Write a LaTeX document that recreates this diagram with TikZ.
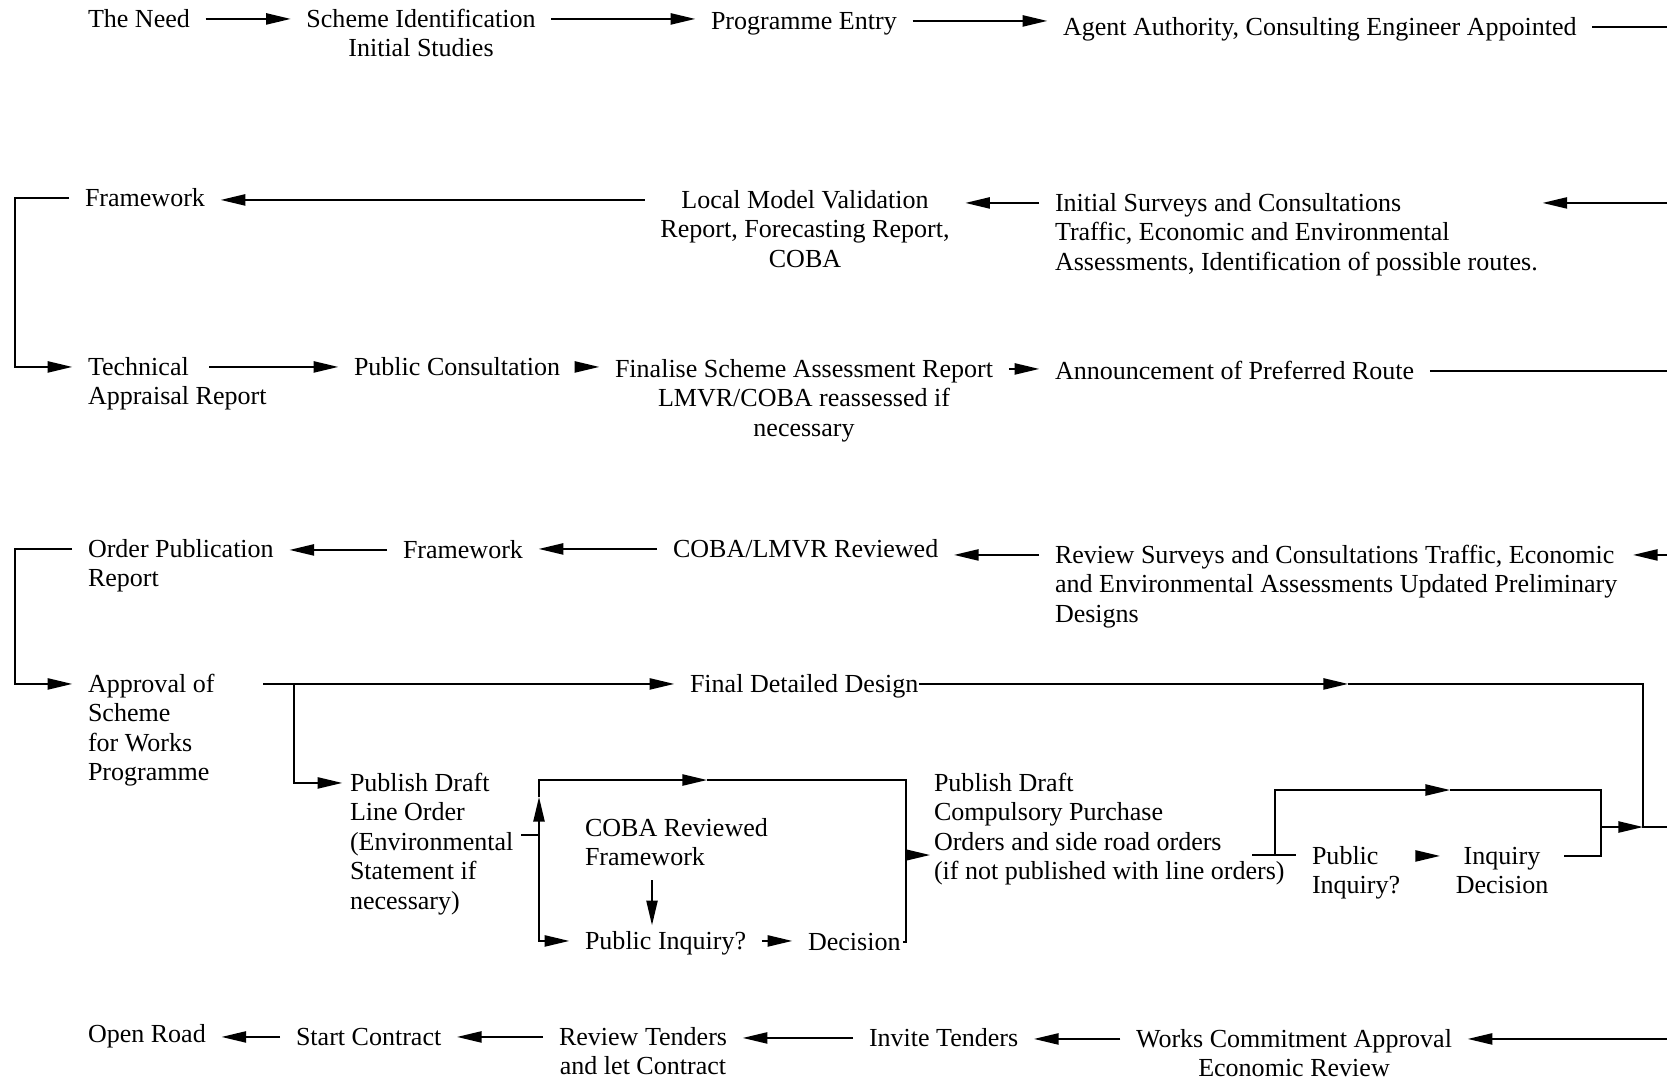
\documentclass[tikz,border=0pt]{standalone}
\usepackage{fontspec}
\setmainfont{Liberation Serif}
\usetikzlibrary{arrows.meta}
\newcommand{\leftlines}[1]{\begin{tabular}[t]{@{}l@{}}#1\end{tabular}}
\newcommand{\midlines}[1]{\begin{tabular}[t]{@{}c@{}}#1\end{tabular}}
\begin{document}
\begin{tikzpicture}[x=0.01cm, y=-0.01cm, line width=0.45pt,
	txt/.style={anchor=text, inner xsep=0.15cm, inner ysep=0.05cm, font=\fontsize{7.4}{8.4}\selectfont},
	ctxt/.style={txt, anchor=base},
	flow/.style={-{Triangle[length=7pt, width=3.2pt]}}]
	\useasboundingbox (0,0) rectangle (1667,1081);
	\coordinate (lm) at (15,0); \coordinate (edge) at (1667,0); \coordinate (rv) at (1643,0);
	\coordinate (br) at (294,0); \coordinate (m1) at (1348,0); \coordinate (dn) at (652,0);
	\coordinate (qo) at (1601,827);
	\coordinate (boxin) at (539,835); \coordinate (upt) at (539,797);
	\coordinate (tmid) at (707,780); \coordinate (btr) at (906,780); \coordinate (bout) at (906,855);
	\coordinate (pa) at (1252,855); \coordinate (pb) at (1275,855);
	\coordinate (m3) at (1450,790); \coordinate (qtr) at (1601,790);
	\node[txt] (need) at (88,27) {The Need};
	\node[ctxt] (ident) at (421,27) {\midlines{Scheme Identification\\Initial Studies}};
	\node[txt] (entry) at (711,29) {Programme Entry};
	\node[txt] (agent) at (1063,35) {Agent Authority, Consulting Engineer Appointed};
	\node[txt] (frame1) at (85,206) {Framework};
	\node[ctxt] (lmvr) at (805,208) {\midlines{Local Model Validation\\Report, Forecasting Report,\\COBA}};
	\node[txt] (survey) at (1055,211) {\leftlines{Initial Surveys and Consultations\\Traffic, Economic and Environmental\\Assessments, Identification of possible routes.}};
	\node[txt] (tar) at (88,375) {\leftlines{Technical\\Appraisal Report}};
	\node[txt] (consult) at (354,375) {Public Consultation};
	\node[ctxt] (sar) at (804,377) {\midlines{Finalise Scheme Assessment Report\\LMVR/COBA reassessed if\\necessary}};
	\node[txt] (route) at (1055,379) {Announcement of Preferred Route};
	\node[txt] (opr) at (88,557) {\leftlines{Order Publication\\Report}};
	\node[txt] (frame2) at (403,558) {Framework};
	\node[txt] (review) at (673,557) {COBA/LMVR Reviewed};
	\node[txt] (resurvey) at (1055,563) {\leftlines{Review Surveys and Consultations Traffic, Economic\\and Environmental Assessments Updated Preliminary\\Designs}};
	\node[txt] (approval) at (88,692) {\leftlines{Approval of\\Scheme\\for Works\\Programme}};
	\node[txt] (design) at (690,692) {Final Detailed Design};
	\node[txt, inner xsep=0.07cm] (lineord) at (350,791) {\leftlines{Publish Draft\\Line Order\\(Environmental\\Statement if\\necessary)}};
	\node[txt] (cobarev) at (585,836) {\leftlines{COBA Reviewed\\Framework}};
	\node[txt] (inq1) at (585,949) {Public Inquiry?};
	\node[txt] (dec1) at (808,950) {Decision};
	\node[txt] (cpo) at (934,791) {\leftlines{Publish Draft\\Compulsory Purchase\\Orders and side road orders\\(if not published with line orders)}};
	\node[txt] (inq2) at (1312,864) {\leftlines{Public\\Inquiry?}};
	\node[ctxt] (dec2) at (1502,864) {\midlines{Inquiry\\Decision}};
	\node[txt] (open) at (88,1042) {Open Road};
	\node[txt] (start) at (296,1045) {Start Contract};
	\node[ctxt] (tenders) at (643,1045) {\midlines{Review Tenders\\and let Contract}};
	\node[txt] (invite) at (869,1046) {Invite Tenders};
	\node[ctxt] (commit) at (1294,1047) {\midlines{Works Commitment Approval\\Economic Review}};
	\draw[flow] (need.mid east) -- (need.mid east -| ident.west);
	\draw[flow] (ident.mid east) -- (ident.mid east -| entry.west);
	\draw[flow] (entry.mid east) -- (entry.mid east -| agent.west);
	\draw (agent.mid east) -- (agent.mid east -| edge);
	\draw[flow] (survey.mid east -| edge) -- ([xshift=-0.11cm]survey.mid east);
	\draw[flow] (survey.mid west) -- (survey.mid west -| lmvr.east);
	\draw[flow] (lmvr.mid west) -- (lmvr.mid west -| frame1.east);
	\draw[flow] (frame1.mid west) -- (frame1.mid west -| lm) -- (tar.mid west -| lm) -- (tar.mid west);
	\draw[flow] ([xshift=1.37cm]tar.mid west) -- (tar.mid west -| consult.west);
	\draw[flow] (consult.mid east) -- (consult.mid east -| sar.west);
	\draw[flow] (sar.mid east) -- (sar.mid east -| route.west);
	\draw (route.mid east) -- (route.mid east -| edge);
	\draw[flow] (resurvey.mid east -| edge) -- (resurvey.mid east);
	\draw[flow] (resurvey.mid west) -- (resurvey.mid west -| review.east);
	\draw[flow] (review.mid west) -- (review.mid west -| frame2.east);
	\draw[flow] (frame2.mid west) -- (frame2.mid west -| opr.east);
	\draw[flow] (opr.mid west) -- (opr.mid west -| lm) -- (approval.mid west -| lm) -- (approval.mid west);
	\draw[flow] ([xshift=1.91cm]approval.mid west) -- (approval.mid west -| design.west);
	\draw[flow] (approval.mid west -| br) |- (lineord.mid west);
	\draw[flow] ([xshift=-0.15cm]design.mid east) -- (design.mid east -| m1);
	\draw (design.mid east -| m1) -- (design.mid east -| rv) -- (qo -| rv) -- (qo -| edge);
	\draw (lineord.east |- boxin) -- (boxin);
	\draw[flow] (boxin) -- (upt);
	\draw[flow] (upt) |- (tmid);
	\draw (tmid) -- (btr) |- ([xshift=-0.13cm]dec1.mid east);
	\draw[flow] (boxin) |- (inq1.mid west);
	\draw[flow] (inq1.mid east) -- (inq1.mid east -| dec1.west);
	\draw[flow] (cobarev.south -| dn) -- (inq1.north -| dn);
	\draw[flow, shorten >=0.04cm] (bout) -- (bout -| cpo.text);
	\draw (pa) -- (pa -| inq2.west);
	\draw[flow] (pb) |- (m3);
	\draw (m3) -- (qtr) |- (dec2.mid east);
	\draw[flow] (inq2.mid east) -- (inq2.mid east -| dec2.west);
	\draw[flow] (qo) -- (qo -| rv);
	\draw[flow] (commit.mid east -| edge) -- (commit.mid east);
	\draw[flow] (commit.mid west) -- (commit.mid west -| invite.east);
	\draw[flow] (invite.mid west) -- (invite.mid west -| tenders.east);
	\draw[flow] (tenders.mid west) -- (tenders.mid west -| start.east);
	\draw[flow] (start.mid west) -- (start.mid west -| open.east);
\end{tikzpicture}
\end{document}
